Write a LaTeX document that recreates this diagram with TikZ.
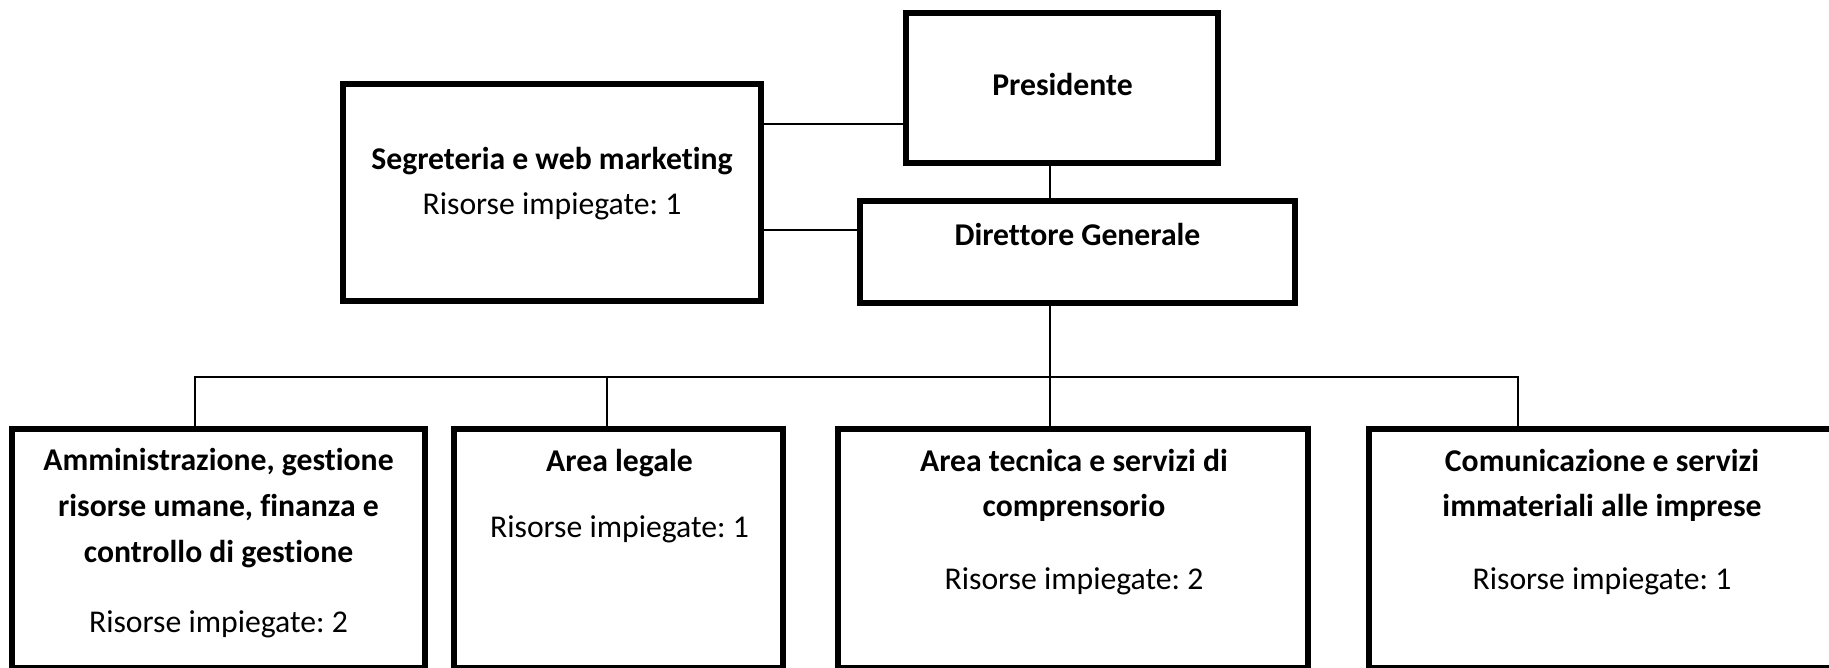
\documentclass[tikz,border=0pt]{standalone}
\usepackage{fontspec}
\setmainfont{Carlito}[Ligatures=NoCommon]
\frenchspacing
\begin{document}
\begin{tikzpicture}[x=1pt,y=-1pt,
  orgbox/.style={draw, rectangle, line width=6pt, inner sep=0pt, outer sep=0pt},
  conn/.style={line width=1.6pt},
  ttl/.style={font=\fontsize{31.7}{45}\selectfont\bfseries, anchor=base, inner sep=0pt},
  bdy/.style={font=\fontsize{31.7}{45}\selectfont, anchor=base, inner sep=0pt}]
\useasboundingbox (0,0) rectangle (1829,668);
\clip (0,0) rectangle (1829,668);
\fill[white] (0,0) rectangle (1829,668);

% boxes
\node[orgbox, minimum width=312pt, minimum height=150pt] (pres) at (1062,88) {};
\node[orgbox, minimum width=435pt, minimum height=102pt] (dir) at (1077.5,252) {};
\node[orgbox, minimum width=418pt, minimum height=217pt] (seg) at (552,192.5) {};
\node[orgbox, minimum width=413pt, minimum height=239pt] (b1) at (218.5,548.5) {};
\node[orgbox, minimum width=329pt, minimum height=239pt] (b2) at (618.5,548.5) {};
\node[orgbox, minimum width=470pt, minimum height=239pt] (b3) at (1073,548.5) {};
\node[orgbox, minimum width=481pt, minimum height=239pt] (b4) at (1609.5,548.5) {};

% helper coordinates
\coordinate (hs) at (0,124);
\coordinate (hd) at (0,230);
\coordinate (vx) at (1050,0);
\coordinate (bus) at (0,377);
\coordinate (d1) at (195,0);
\coordinate (d2) at (607,0);
\coordinate (d4) at (1518,0);

% connectors
\draw[conn] (seg.east |- hs) -- (pres.west |- hs);
\draw[conn] (seg.east |- hd) -- (dir.west |- hd);
\draw[conn] (pres.south -| vx) -- (dir.north -| vx);
\draw[conn] (dir.south -| vx) -- (b3.north -| vx);
\draw[conn] (b1.north -| d1) -- (d1 |- bus) -- (d4 |- bus) -- (b4.north -| d4);
\draw[conn] (b2.north -| d2) -- (d2 |- bus);

% texts
\node[ttl] (tpres) at (1062.5,96) {Presidente};
\node[ttl] (tdir) at (1077.5,246) {Direttore Generale};
\node[ttl] (tseg) at (552,170) {Segreteria e web marketing};
\node[bdy] (rseg) at (552,215) {Risorse impiegate: 1};

\node[ttl] (t1a) at (218.5,470) {Amministrazione, gestione};
\node[ttl] (t1b) at (218.5,516) {risorse umane, finanza e};
\node[ttl] (t1c) at (218.5,562) {controllo di gestione};
\node[bdy] (r1) at (218.5,632) {Risorse impiegate: 2};

\node[ttl] (t2a) at (619.5,471.5) {Area legale};
\node[bdy] (r2) at (619.5,537.5) {Risorse impiegate: 1};

\node[ttl] (t3a) at (1074,471) {Area tecnica e servizi di};
\node[ttl] (t3b) at (1074,516.5) {comprensorio};
\node[bdy] (r3) at (1074,589) {Risorse impiegate: 2};

\node[ttl] (t4a) at (1602,471) {Comunicazione e servizi};
\node[ttl] (t4b) at (1602,516.5) {immateriali alle imprese};
\node[bdy] (r4) at (1602,589) {Risorse impiegate: 1};
\end{tikzpicture}
\end{document}
